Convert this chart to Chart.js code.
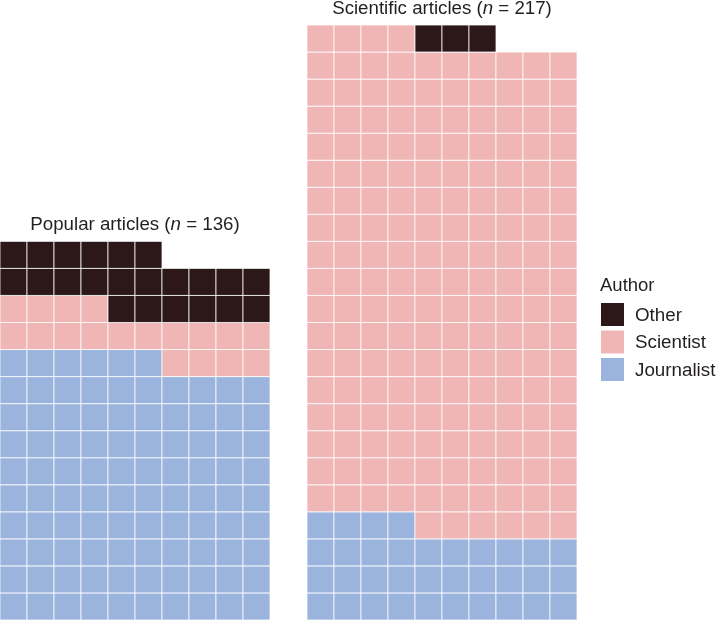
<!DOCTYPE html>
<html>
<head>
<meta charset="utf-8">
<title>Article authors</title>
<script src="https://cdn.jsdelivr.net/npm/chart.js@4.4.1/dist/chart.umd.min.js"></script>
<style>
  html, body { margin: 0; padding: 0; background: #fff; }
</style>
</head>
<body>
<canvas id="waffle" width="717" height="620"></canvas>
<script>
const groups = ['Popular articles', 'Scientific articles'];
const groupTotals = [136, 217];
const authors = ['Other', 'Scientist', 'Journalist'];
const otherCounts = [22, 3];
const scientistCounts = [18, 180];
const journalistCounts = [96, 34];
const authorColors = ['#2c1819', '#f0b6b5', '#9bb4dd'];

const COLS = 10;          // cells per row
const PANEL_STEP = 11.37; // where the 2nd panel starts, in cells
const FONT = '"Liberation Sans", Arial, sans-serif';
const TEXT = '#231f20';

// cells fill row by row from the bottom left: journalist, scientist, other
function waffleCells(authorIdx) {
    const byAuthor = [otherCounts, scientistCounts, journalistCounts];
    const pts = [];
    groups.forEach((name, g) => {
        let start = 0;
        if (authorIdx <= 1) start += journalistCounts[g];
        if (authorIdx === 0) start += scientistCounts[g];
        const n = byAuthor[authorIdx][g];
        for (let k = start; k < start + n; k++) {
            pts.push({ x: g * PANEL_STEP + (k % COLS) + 0.5, y: Math.floor(k / COLS) + 0.5 });
        }
    });
    return pts;
}

// square side = one x unit
function cellRadius(ctx) {
    const x = ctx.chart.scales.x;
    const w = x ? Math.abs(x.getPixelForValue(1) - x.getPixelForValue(0)) : 0;
    return isFinite(w) && w > 0 ? w / Math.SQRT2 : 1;
}

const labelsPlugin = {
    id: 'waffleLabels',
    afterDraw(chart) {
        const { ctx, scales: { x, y }, chartArea } = chart;
        ctx.save();
        ctx.fillStyle = TEXT;
        ctx.textBaseline = 'alphabetic';
        ctx.textAlign = 'left';

        // panel titles, "n" in italics
        groups.forEach((name, g) => {
            const rows = Math.ceil(groupTotals[g] / COLS);
            const cx = x.getPixelForValue(g * PANEL_STEP + COLS / 2);
            const top = y.getPixelForValue(rows);
            const parts = [
                [name + ' (', 'normal'],
                ['n', 'italic'],
                [' = ' + groupTotals[g] + ')', 'normal']
            ];
            let total = 0;
            parts.forEach(p => {
                ctx.font = p[1] + ' 18.7px ' + FONT;
                total += ctx.measureText(p[0]).width;
            });
            let px = cx - total / 2;
            parts.forEach(p => {
                ctx.font = p[1] + ' 18.7px ' + FONT;
                ctx.fillText(p[0], px, top - 11);
                px += ctx.measureText(p[0]).width;
            });
        });

        // legend
        const lx = chartArea.right + 24;
        const ly = 291;
        ctx.font = '18.5px ' + FONT;
        ctx.fillText('Author', lx - 1, ly);
        authors.forEach((a, i) => {
            const top = ly + 12 + i * 27.5;
            ctx.fillStyle = authorColors[i];
            ctx.fillRect(lx, top, 23, 23);
            ctx.fillStyle = TEXT;
            ctx.font = '18.8px ' + FONT;
            ctx.fillText(a, lx + 34, top + 17.5);
        });
        ctx.restore();
    }
};

new Chart(document.getElementById('waffle'), {
    type: 'scatter',
    data: {
        datasets: authors.map((a, i) => ({
            label: a,
            data: waffleCells(i),
            backgroundColor: authorColors[i],
            borderColor: 'rgba(255, 255, 255, 0.75)',
            borderWidth: 1,
            pointStyle: 'rect',
            pointRadius: cellRadius,
            pointHoverRadius: cellRadius,
            clip: false
        }))
    },
    options: {
        responsive: false,
        animation: false,
        events: [],
        layout: {
            autoPadding: false,
            padding: { top: 25, right: 140, left: 0, bottom: 0 }
        },
        scales: {
            x: { type: 'linear', min: 0, max: PANEL_STEP + COLS, display: false },
            y: { type: 'linear', min: 0, max: 22, display: false }
        },
        plugins: {
            legend: { display: false },
            tooltip: { enabled: false }
        }
    },
    plugins: [labelsPlugin]
});
</script>
</body>
</html>
